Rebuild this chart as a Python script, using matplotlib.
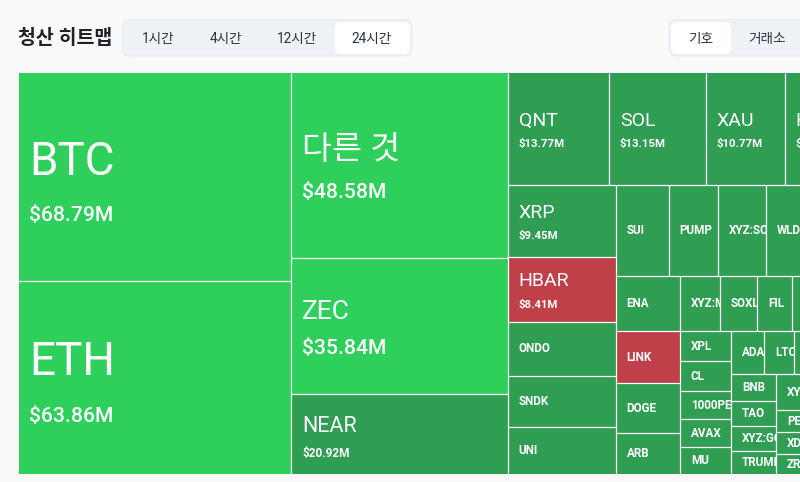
# -*- coding: utf-8 -*-
import matplotlib
matplotlib.use('Agg')
import matplotlib.pyplot as plt
from matplotlib.patches import Rectangle, FancyBboxPatch

plt.rcParams['font.family'] = ['Roboto', 'Noto Sans CJK KR', 'DejaVu Sans']

# liquidation value in $M, the ones without a printed label are estimated from area
values = {
    'BTC': 68.79, 'ETH': 63.86,
    '다른 것': 48.58, 'ZEC': 35.84, 'NEAR': 20.92,
    'QNT': 13.77, 'SOL': 13.15, 'XAU': 10.77, 'HYPE': 9.72,
    'XRP': 9.45, 'HBAR': 8.41, 'ONDO': 7.07, 'SNDK': 6.68, 'UNI': 6.15,
    'SUI': 5.85, 'PUMP': 5.41, 'XYZ:SOFTBANK': 5.30, 'WLD': 5.10, 'AAVE': 4.90,
    'ENA': 4.27, 'LINK': 4.03, 'DOGE': 3.88, 'ARB': 3.18,
    'XYZ:MSTR': 2.67, 'SOXL': 2.47, 'FIL': 2.33, 'TON': 2.20, 'ADA2': 2.07,
    'XPL': 1.85, 'CL': 1.85, '1000PEPE': 1.73, 'AVAX': 1.73, 'MU': 1.67,
    'ADA': 1.72, 'LTC': 1.56, 'BCH': 1.70, 'OP': 1.53,
    'BNB': 1.47, 'TAO': 1.36, 'XYZ:GOOG': 1.36, 'TRUMP': 1.25,
    'XYZ:AMD': 1.57, 'PENGU': 0.96, 'XDC': 0.96, 'ZRO': 0.87,
    'APT': 2.70, 'SUSHI': 2.63,
}
red_names = ['HBAR', 'LINK']
bright_names = ['BTC', 'ETH', '다른 것', 'ZEC']
show_value = ['BTC', 'ETH', '다른 것', 'ZEC', 'NEAR', 'QNT', 'SOL', 'XAU', 'HYPE', 'XRP', 'HBAR']

# nesting of the treemap, h = side by side, v = stacked
tree = ('h', [
    ('v', ['BTC', 'ETH']),
    ('v', ['다른 것', 'ZEC', 'NEAR']),
    ('v', [
        ('h', ['QNT', 'SOL', 'XAU', 'HYPE']),
        ('h', [
            ('v', ['XRP', 'HBAR', 'ONDO', 'SNDK', 'UNI']),
            ('v', [
                ('h', ['SUI', 'PUMP', 'XYZ:SOFTBANK', 'WLD', 'AAVE']),
                ('h', [
                    ('v', ['ENA', 'LINK', 'DOGE', 'ARB']),
                    ('v', [
                        ('h', ['XYZ:MSTR', 'SOXL', 'FIL', 'TON', 'ADA2']),
                        ('h', [
                            ('v', ['XPL', 'CL', '1000PEPE', 'AVAX', 'MU']),
                            ('v', [
                                ('h', ['ADA', 'LTC', 'BCH', 'OP']),
                                ('h', [
                                    ('v', ['BNB', 'TAO', 'XYZ:GOOG', 'TRUMP']),
                                    ('v', ['XYZ:AMD', 'PENGU', 'XDC', 'ZRO']),
                                    ('v', ['APT', 'SUSHI']),
                                ]),
                            ]),
                        ]),
                    ]),
                ]),
            ]),
        ]),
    ]),
])

tabs_time = ['1시간', '4시간', '12시간', '24시간']
tabs_group = ['기호', '거래소']

GREEN_BRIGHT = '#2ECF5B'
GREEN = '#2F9E53'
RED = '#C04049'
BG = '#F9F9FA'


def total(node):
    if isinstance(node, str):
        return values[node]
    return sum(total(c) for c in node[1])


def layout(node, x, y, w, h, out):
    if isinstance(node, str):
        out.append((node, x, y, w, h))
        return
    direction, children = node
    s = total(node)
    for c in children:
        share = total(c) / s
        if direction == 'h':
            layout(c, x, y, w * share, h, out)
            x += w * share
        else:
            layout(c, x, y, w, h * share, out)
            y += h * share


def font_sizes(v):
    # (name size, value size, name offset, value offset), all by cell size tier
    if v > 60:
        return 33, 15.2, -15, 39
    if v > 40:
        return 23.5, 15.2, -15, 27
    if v > 30:
        return 19, 15.2, -14, 23
    if v > 15:
        return 15.5, 8.5, -8, 19
    if v > 8:
        return 14, 8.2, -8, 15
    return 8.4, 8.2, 0, 0


fig = plt.figure(figsize=(8.0, 4.82), dpi=100, facecolor=BG)
ax = fig.add_axes([0, 0, 1, 1])
ax.set_xlim(0, 800)
ax.set_ylim(482, 0)
ax.axis('off')

# header
ax.text(18, 38.5, '청산 히트맵', fontsize=14, fontweight='bold', color='#1F2329', va='center')

ax.add_patch(FancyBboxPatch((122, 19.5), 290, 36.5, boxstyle='round,pad=0,rounding_size=8',
                            fc='#EEF1F5', ec='#EAECEF', lw=0.8))
ax.add_patch(FancyBboxPatch((335, 22), 75, 32, boxstyle='round,pad=0,rounding_size=6',
                            fc='white', ec='none'))
for lab, cx in zip(tabs_time, [158.5, 226, 297, 372]):
    ax.text(cx, 38.5, lab, fontsize=9.8, color='#2B3440', ha='center', va='center')

ax.add_patch(FancyBboxPatch((669, 19.5), 200, 36.5, boxstyle='round,pad=0,rounding_size=8',
                            fc='#EEF1F5', ec='#EAECEF', lw=0.8))
ax.add_patch(FancyBboxPatch((671, 22), 60, 32, boxstyle='round,pad=0,rounding_size=6',
                            fc='white', ec='none'))
for lab, cx in zip(tabs_group, [701, 767]):
    ax.text(cx, 38.5, lab, fontsize=9.8, color='#2B3440', ha='center', va='center')

# treemap, runs past the right edge of the picture
cells = []
layout(tree, 18.5, 72.5, 837.5, 401.5, cells)

for name, x, y, w, h in cells:
    if name in red_names:
        col = RED
    elif name in bright_names:
        col = GREEN_BRIGHT
    else:
        col = GREEN
    r = Rectangle((x, y), w, h, fc=col, ec='none')
    ax.add_patch(r)
    # white separators only on the inner sides, the outer edge stays flush
    if x > 19:
        ax.plot([x, x], [y, y + h], color='white', lw=0.9, solid_capstyle='butt')
    if y > 73:
        ax.plot([x, x + w], [y, y], color='white', lw=0.9, solid_capstyle='butt')
    v = values[name]
    fs, fv, dn, dv = font_sizes(v)
    cy = y + h / 2
    t = ax.text(x + 11, cy + dn, name, fontsize=fs, color='white', va='center',
                fontweight='bold' if fs < 10 else 'normal')
    t.set_clip_path(r)
    t.set_clip_on(True)
    if name in show_value:
        tv = ax.text(x + 11, cy + dv, '$%.2fM' % v, fontsize=fv, color='white', va='center',
                     fontweight='bold' if fv < 10 else 'medium')
        tv.set_clip_path(r)
        tv.set_clip_on(True)

fig.savefig('out.png', dpi=100, facecolor=BG)
